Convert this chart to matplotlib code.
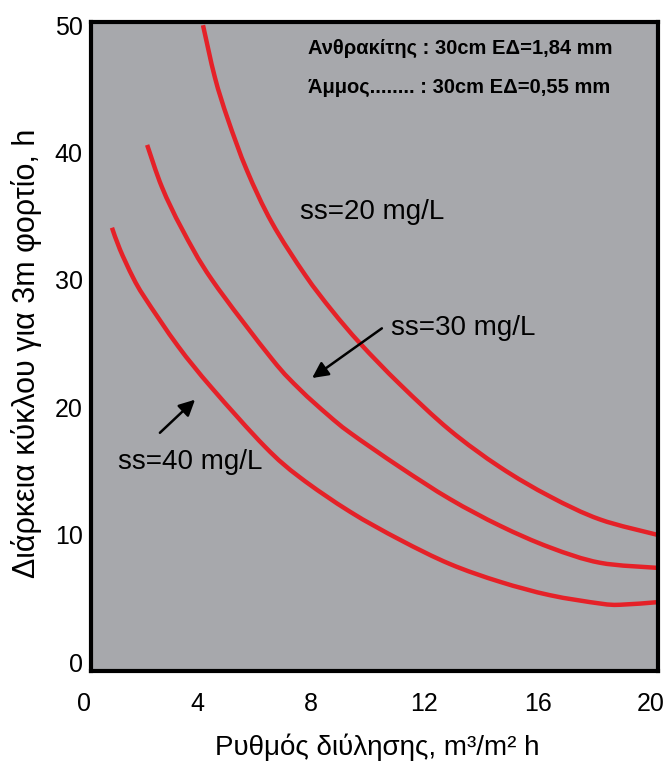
import matplotlib
matplotlib.use("Agg")
import matplotlib.pyplot as plt
from matplotlib.path import Path
from matplotlib.patches import PathPatch
from matplotlib.transforms import ScaledTranslation

plt.rcParams['font.family'] = ['Liberation Sans', 'DejaVu Sans']

# Filtration rate (m3/m2 h) vs. cycle duration (h) for three suspended-solids loads
rate_ss20 = [3.95, 4.37, 4.83, 5.50, 6.38, 7.55, 8.50, 9.50, 10.9, 12.66, 14.43, 16.19, 17.95, 19.96]
hours_ss20 = [50.0, 45.9, 42.6, 38.6, 34.5, 30.4, 27.6, 25.0, 21.8, 18.2, 15.3, 13.0, 11.2, 10.0]

rate_ss30 = [1.98, 2.50, 3.21, 4.27, 6.38, 7.37, 8.36, 9.14, 10.9, 12.66, 14.43, 16.19, 17.95, 19.96]
hours_ss30 = [40.6, 37.3, 34.0, 30.0, 23.8, 21.4, 19.4, 18.0, 15.3, 12.8, 10.7, 9.0, 7.8, 7.4]

rate_ss40 = [0.74, 1.02, 1.48, 1.90, 3.07, 4.27, 6.14, 7.37, 9.14, 10.9, 12.66, 14.43, 16.19, 17.95, 18.66, 19.96]
hours_ss40 = [34.1, 32.4, 30.2, 28.6, 24.8, 21.5, 16.9, 14.5, 11.8, 9.6, 7.7, 6.3, 5.25, 4.6, 4.5, 4.7]

x_ticks = [0, 4, 8, 12, 16, 20]
y_ticks = [0, 10, 20, 30, 40, 50]

curve_labels = ["ss=20 mg/L", "ss=30 mg/L", "ss=40 mg/L"]
media_lines = ["Ανθρακίτης : 30cm ΕΔ=1,84 mm", "Άμμος........ : 30cm ΕΔ=0,55 mm"]
x_label = "Ρυθμός διύλησης, m³/m² h"
y_label = "Διάρκεια κύκλου για 3m φορτίο, h"


def smooth_curve_path(xs, ys):
    """Catmull-Rom curve through the given points, as cubic Bezier segments."""
    pts = list(zip(xs, ys))
    ext = [pts[0]] + pts + [pts[-1]]
    verts = [pts[0]]
    codes = [Path.MOVETO]
    for i in range(1, len(ext) - 2):
        p0, p1, p2, p3 = ext[i - 1], ext[i], ext[i + 1], ext[i + 2]
        c1 = (p1[0] + (p2[0] - p0[0]) / 6.0, p1[1] + (p2[1] - p0[1]) / 6.0)
        c2 = (p2[0] - (p3[0] - p1[0]) / 6.0, p2[1] - (p3[1] - p1[1]) / 6.0)
        verts += [c1, c2, p2]
        codes += [Path.CURVE4] * 3
    return Path(verts, codes)


W, H = 667, 765
fig = plt.figure(figsize=(W / 100, H / 100), dpi=100)
fig.patch.set_facecolor('white')
ax = fig.add_axes([91 / W, 1 - 671 / H, (658 - 91) / W, (671 - 22) / H])
ax.set_facecolor('#a7a8ac')
ax.set_xlim(0, 20)
ax.set_ylim(-0.7, 50.25)
for sp in ax.spines.values():
    sp.set_linewidth(3.0)
    sp.set_color('black')
    sp.set_zorder(5)

ax.set_xticks(x_ticks)
ax.set_yticks(y_ticks)
ax.tick_params(axis='both', length=0, labelsize=18, colors='black')
ax.tick_params(axis='x', pad=15)
ax.tick_params(axis='y', pad=6)
shift = ScaledTranslation(-7 / 100, 0, fig.dpi_scale_trans)
for lab in ax.get_xticklabels():
    lab.set_transform(lab.get_transform() + shift)

red = '#e52128'
for xs, ys in [(rate_ss20, hours_ss20), (rate_ss30, hours_ss30), (rate_ss40, hours_ss40)]:
    patch = PathPatch(smooth_curve_path(xs, ys), facecolor='none', edgecolor=red,
                      lw=3.2, capstyle='butt', joinstyle='round')
    ax.add_patch(patch)

# Curve labels
ax.text(7.37, 35.3, curve_labels[0], fontsize=20, ha='left', va='center')
ax.text(10.58, 26.2, curve_labels[1], fontsize=20, ha='left', va='center')
ax.text(0.95, 15.7, curve_labels[2], fontsize=20, ha='left', va='center')

arrow = dict(arrowstyle='-|>', color='black', lw=1.8, mutation_scale=24, shrinkA=0, shrinkB=0)
ax.annotate('', xy=(7.80, 22.3), xytext=(10.26, 26.2), arrowprops=arrow)
ax.annotate('', xy=(3.67, 20.6), xytext=(2.43, 18.0), arrowprops=arrow)

# Filter media description
ax.text(7.65, 48.2, media_lines[0], fontsize=14.5, fontweight='bold', ha='left', va='center')
ax.text(7.65, 45.1, media_lines[1], fontsize=14.5, fontweight='bold', ha='left', va='center')

fig.text(377 / W, 1 - 747 / H, x_label, fontsize=20, ha='center', va='center')
fig.text(27 / W, 1 - 353 / H, y_label, fontsize=22, ha='center', va='center', rotation=90)

fig.savefig('out.png', dpi=100)
